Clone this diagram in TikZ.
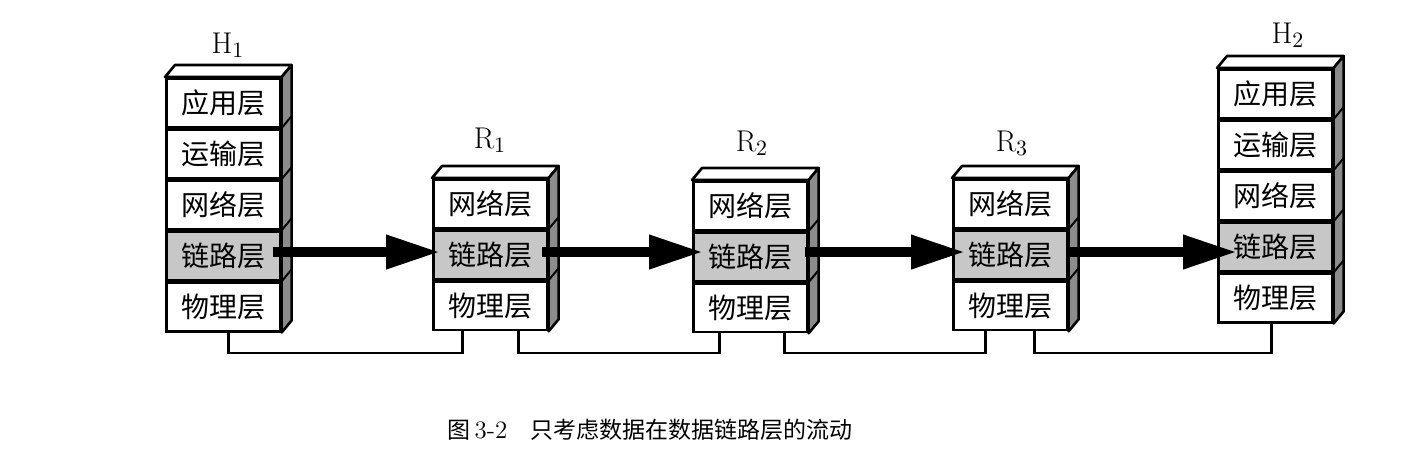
\documentclass[tikz,border=0pt]{standalone}
\usepackage{fontspec}
\newfontfamily\cjk{Noto Sans CJK SC}
\usetikzlibrary{arrows.meta}
\newcommand\stackfaces[2]{%
  \draw[topface] (#1.north west) -- ++(10,-12) -- ([shift={(10,-12)}]#1.north east) -- (#1.north east) -- cycle;
  \draw[sideface] (#1.north east) -- ++(10,-12) -- ([shift={(10,-12)}]#2.south east) -- (#2.south east) -- cycle;
}
\newcommand\sidesep[1]{\draw[sepline] (#1.south east) -- ++(10,-12);}
\begin{document}
\begin{tikzpicture}[x=0.5pt,y=-0.5pt,
  cell/.style={draw, line width=1.3pt, fill=white, minimum width=57pt, minimum height=24.25pt, inner sep=0pt, font=\cjk\fontsize{14pt}{15pt}\selectfont},
  linkcell/.style={cell, fill=black!22},
  sideface/.style={draw, line width=1.3pt, fill=black!45, line join=round},
  topface/.style={draw, line width=1.3pt, fill=white, line join=round},
  sepline/.style={line width=1pt},
  lab/.style={font=\fontsize{15pt}{16pt}\selectfont, inner sep=0pt},
  pipe/.style={line width=1.4pt},
  flow/.style={line width=5pt, -{Triangle[length=27pt,width=16pt]}}
]
\useasboundingbox[fill=white] (0,0) rectangle (1401,457);

% H1
\node[cell, anchor=north west] (h1a) at (165,77) {应用层};
\node[cell, anchor=north] (h1b) at (h1a.south) {运输层};
\node[cell, anchor=north] (h1c) at (h1b.south) {网络层};
\node[linkcell, anchor=north] (h1d) at (h1c.south) {链路层};
\node[cell, anchor=north] (h1e) at (h1d.south) {物理层};
\stackfaces{h1a}{h1e}
\sidesep{h1a}\sidesep{h1b}\sidesep{h1c}\sidesep{h1d}
\node[lab] (h1l) at (228,45) {$\mathrm{H}_1$};

% R1
\begin{scope}[every node/.append style={minimum width=57.5pt, minimum height=24pt}]
\node[cell, anchor=north west] (r1a) at (432,178) {网络层};
\node[linkcell, anchor=north] (r1b) at (r1a.south) {链路层};
\node[cell, anchor=north] (r1c) at (r1b.south) {物理层};
\end{scope}
\stackfaces{r1a}{r1c}
\sidesep{r1a}\sidesep{r1b}
\node[lab] (r1l) at (490,140) {$\mathrm{R}_1$};

% R2
\begin{scope}[every node/.append style={minimum width=55.5pt, minimum height=23.7pt}]
\node[cell, anchor=north west] (r2a) at (692,180) {网络层};
\node[linkcell, anchor=north] (r2b) at (r2a.south) {链路层};
\node[cell, anchor=north] (r2c) at (r2b.south) {物理层};
\end{scope}
\stackfaces{r2a}{r2c}
\sidesep{r2a}\sidesep{r2b}
\node[lab] (r2l) at (752,143) {$\mathrm{R}_2$};

% R3
\begin{scope}[every node/.append style={minimum width=55.5pt, minimum height=24pt}]
\node[cell, anchor=north west] (r3a) at (952,178) {网络层};
\node[linkcell, anchor=north] (r3b) at (r3a.south) {链路层};
\node[cell, anchor=north] (r3c) at (r3b.south) {物理层};
\end{scope}
\stackfaces{r3a}{r3c}
\sidesep{r3a}\sidesep{r3b}
\node[lab] (r3l) at (1012,143) {$\mathrm{R}_3$};

% H2
\begin{scope}[every node/.append style={minimum width=60pt, minimum height=25.5pt}]
\node[cell, anchor=north west] (h2a) at (1217,68) {应用层};
\node[cell, anchor=north] (h2b) at (h2a.south) {运输层};
\node[cell, anchor=north] (h2c) at (h2b.south) {网络层};
\node[linkcell, anchor=north] (h2d) at (h2c.south) {链路层};
\node[cell, anchor=north] (h2e) at (h2d.south) {物理层};
\end{scope}
\stackfaces{h2a}{h2e}
\sidesep{h2a}\sidesep{h2b}\sidesep{h2c}\sidesep{h2d}
\node[lab] (h2l) at (1288,35) {$\mathrm{H}_2$};

% physical wires
\coordinate (wy) at (0,353);
\coordinate (w1a) at ([xshift=2.5pt]h1e.south);
\coordinate (w1b) at ([xshift=-13.75pt]r1c.south);
\coordinate (w2a) at ([xshift=14.25pt]r1c.south);
\coordinate (w2b) at ([xshift=-15.25pt]r2c.south);
\coordinate (w3a) at ([xshift=17.25pt]r2c.south);
\coordinate (w3b) at ([xshift=-12.25pt]r3c.south);
\coordinate (w4a) at ([xshift=12.25pt]r3c.south);
\coordinate (w4b) at ([xshift=-2pt]h2e.south);
\draw[pipe] (w1a) -- (w1a |- wy) -| (w1b);
\draw[pipe] (w2a) -- (w2a |- wy) -| (w2b);
\draw[pipe] (w3a) -- (w3a |- wy) -| (w3b);
\draw[pipe] (w4a) -- (w4a |- wy) -| (w4b);

% data flow arrows
\coordinate (ay) at (0,252);
\coordinate (a1s) at ([xshift=-4.5pt]h1d.east);
\coordinate (a1e) at ([xshift=4pt]r1b.west);
\coordinate (a2s) at ([xshift=-3.5pt]r1b.east);
\coordinate (a2e) at ([xshift=5.5pt]r2b.west);
\coordinate (a3s) at ([xshift=-2pt]r2b.east);
\coordinate (a3e) at ([xshift=6.5pt]r3b.west);
\coordinate (a4s) at ([xshift=-1pt]r3b.east);
\coordinate (a4e) at ([xshift=10pt]h2d.west);
\draw[flow] (a1s |- ay) -- (a1e |- ay);
\draw[flow] (a2s |- ay) -- (a2e |- ay);
\draw[flow] (a3s |- ay) -- (a3e |- ay);
\draw[flow] (a4s |- ay) -- (a4e |- ay);

% caption
\node[font=\cjk\fontsize{11.5pt}{12pt}\selectfont, inner sep=0pt] (cap) at (650,430) {图\,{\rmfamily\fontsize{12.5pt}{13pt}\selectfont 3-2}\quad 只考虑数据在数据链路层的流动};
\end{tikzpicture}
\end{document}
